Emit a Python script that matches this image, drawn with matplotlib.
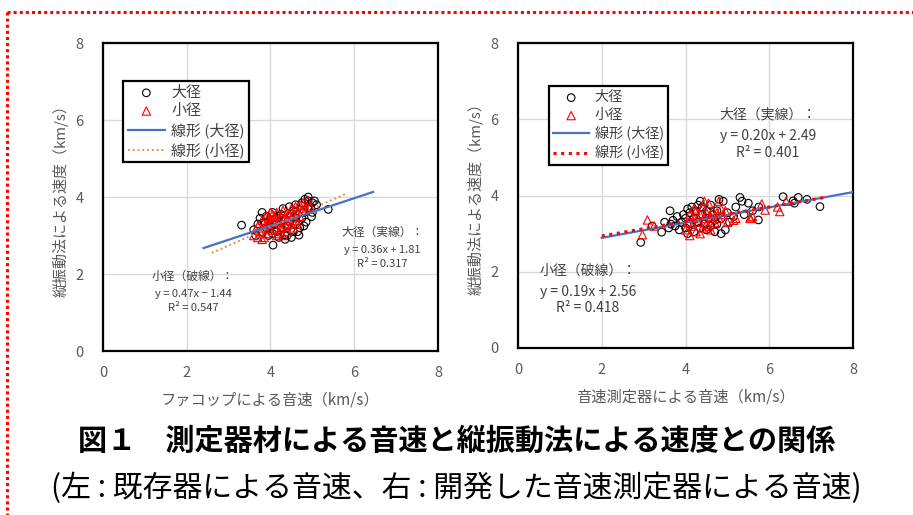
import matplotlib
matplotlib.use("Agg")
import matplotlib.pyplot as plt
from matplotlib.lines import Line2D

plt.rcParams['font.family'] = ['Noto Sans CJK JP', 'DejaVu Sans']

# left: ファコップ vs 縦振動法
L_big_x = [3.31, 3.6, 3.65, 3.7, 3.75, 3.8, 3.85, 3.9, 3.9, 3.95, 4.0, 4.05, 4.06, 4.1, 4.15, 4.2, 4.2, 4.25,
           4.3, 4.3, 4.34, 4.4, 4.4, 4.45, 4.5, 4.5, 4.55, 4.55, 4.6, 4.6, 4.65, 4.68, 4.7, 4.75, 4.75, 4.82,
           4.8, 4.85, 4.9, 4.9, 4.95, 4.98, 5.0, 5.0, 5.05, 5.1, 5.38, 4.05, 4.25, 4.6, 4.35, 4.65, 4.8, 4.9,
           3.8, 4.0, 4.45, 4.15]
L_big_y = [3.27, 3.15, 3.0, 3.3, 3.45, 3.6, 3.35, 3.2, 3.5, 3.0, 3.4, 3.6, 2.75, 3.3, 3.1, 3.5, 2.95, 3.2,
           3.7, 3.4, 3.01, 3.0, 3.25, 3.75, 3.5, 2.95, 3.1, 3.65, 3.3, 3.8, 3.55, 3.01, 3.2, 3.85, 3.45, 3.94,
           3.6, 3.35, 3.9, 4.0, 3.75, 3.49, 3.85, 3.6, 3.9, 3.8, 3.68, 3.05, 3.55, 3.45, 2.9, 3.1, 3.25, 3.7,
           3.1, 3.25, 3.35, 3.45]
L_small_x = [3.6, 3.65, 3.7, 3.7, 3.75, 3.8, 3.8, 3.85, 3.9, 3.9, 3.95, 4.0, 4.0, 4.05, 4.1, 4.1, 4.15, 4.2,
             4.2, 4.25, 4.3, 4.3, 4.35, 4.4, 4.4, 4.45, 4.5, 4.5, 4.55, 4.6, 4.6, 4.65, 4.7, 4.7, 4.75, 4.8,
             4.85, 4.9, 4.95, 4.0, 4.25, 4.45, 4.15, 3.95, 4.35, 4.55, 3.85, 4.65, 4.05, 4.3]
L_small_y = [3.0, 3.15, 3.25, 2.95, 3.1, 3.4, 2.9, 3.2, 3.5, 3.05, 3.3, 3.6, 3.15, 3.4, 3.5, 3.2, 3.6, 3.35,
             3.05, 3.5, 3.65, 3.25, 3.45, 3.6, 3.1, 3.4, 3.7, 3.3, 3.55, 3.75, 3.4, 3.6, 3.8, 3.5, 3.65, 3.85,
             3.7, 3.9, 3.75, 3.35, 3.2, 3.55, 3.0, 3.45, 3.3, 3.2, 2.95, 3.3, 3.55, 3.0]
L_fit_big = (0.36, 1.81, 2.4, 6.45)     # slope, intercept, x from, x to
L_fit_small = (0.48, 1.3, 2.6, 5.8)

# right: 音速測定器 vs 縦振動法
R_big_x = [2.93, 3.2, 3.43, 3.5, 3.63, 3.6, 3.7, 3.75, 3.8, 3.85, 3.9, 3.95, 4.0, 4.0, 4.05, 4.1, 4.1, 4.15,
           4.2, 4.2, 4.25, 4.3, 4.3, 4.35, 4.4, 4.4, 4.45, 4.5, 4.5, 4.55, 4.6, 4.6, 4.65, 4.7, 4.7, 4.75,
           4.8, 4.85, 4.85, 4.9, 4.95, 5.0, 5.05, 5.2, 5.3, 5.35, 5.4, 5.5, 5.6, 5.74, 5.75, 6.33, 6.57,
           6.6, 6.69, 6.9, 7.21, 4.05, 4.35, 4.75, 3.65, 5.15]
R_big_y = [2.77, 3.2, 3.04, 3.3, 3.6, 3.15, 3.35, 3.2, 3.45, 3.1, 3.3, 3.5, 3.15, 3.4, 3.0, 3.55, 3.25, 3.7,
           3.4, 3.05, 3.6, 3.3, 3.75, 3.15, 3.5, 3.7, 3.25, 3.6, 3.1, 3.4, 3.75, 3.2, 3.5, 3.35, 3.05, 3.6,
           3.9, 3.0, 3.4, 3.85, 3.1, 3.55, 3.3, 3.7, 3.95, 3.85, 3.5, 3.8, 3.6, 3.36, 3.7, 3.97, 3.86,
           3.8, 3.95, 3.9, 3.71, 3.65, 3.85, 3.25, 3.25, 3.45]
R_small_x = [2.97, 3.09, 3.25, 4.0, 4.05, 4.1, 4.1, 4.15, 4.2, 4.25, 4.25, 4.3, 4.35, 4.4, 4.4, 4.45, 4.5,
             4.5, 4.55, 4.6, 4.6, 4.65, 4.7, 4.75, 4.8, 4.8, 4.9, 4.95, 5.0, 5.15, 5.2, 5.54, 5.55, 5.6,
             5.82, 5.9, 6.25, 6.4, 6.2, 4.35, 4.55, 4.85, 4.2, 4.45]
R_small_y = [2.97, 3.36, 3.2, 3.1, 3.3, 2.95, 3.5, 3.2, 3.4, 3.6, 3.05, 3.3, 3.5, 3.7, 3.15, 3.4, 3.55,
             3.25, 3.8, 3.45, 3.1, 3.6, 3.3, 3.55, 3.85, 3.4, 3.5, 3.6, 3.3, 3.35, 3.4, 3.41, 3.4, 3.45,
             3.78, 3.62, 3.58, 3.85, 3.7, 3.0, 3.2, 3.65, 3.65, 3.85]
R_fit_big = (0.20, 2.49, 2.0, 8.0)
R_fit_small = (0.19, 2.56, 2.0, 7.3)

ticks = [0, 2, 4, 6, 8]
grey = '#595959'


def panel(ax, bx, by, sx, sy, fb, fs, small_style, xlabel, notes, leg_pos, leg_fs):
    ax.scatter(bx, by, s=30, facecolors='none', edgecolors='black', linewidths=0.8, label='大径', zorder=3)
    ax.scatter(sx, sy, s=36, marker='^', facecolors='none', edgecolors='red', linewidths=0.8, label='小径', zorder=4)
    k, b, x0, x1 = fb
    ax.plot([x0, x1], [k * x0 + b, k * x1 + b], color='#4472C4', lw=1.6, label='線形 (大径)', zorder=5)
    k, b, x0, x1 = fs
    ax.plot([x0, x1], [k * x0 + b, k * x1 + b], label='線形 (小径)', zorder=6, **small_style)
    ax.set_xlim(0, 8)
    ax.set_ylim(0, 8)
    ax.set_xticks(ticks)
    ax.set_yticks(ticks)
    ax.grid(True, color='#d9d9d9', lw=1)
    ax.set_axisbelow(True)
    ax.tick_params(length=0, labelsize=10.5, labelcolor=grey)
    ax.tick_params(axis='x', pad=11)
    ax.tick_params(axis='y', pad=14)
    for sp in ax.spines.values():
        sp.set_linewidth(1.6)
        sp.set_color('black')
    ax.set_xlabel(xlabel, fontsize=11, color=grey, labelpad=8)
    ax.set_ylabel('縦振動法による速度（km/s）', fontsize=10.8, color=grey, labelpad=5)
    for (x, y, t, fsz) in notes:
        ax.text(x, y, t, ha='center', va='center', fontsize=fsz, color='#404040')
    leg = ax.legend(loc='upper left', bbox_to_anchor=leg_pos, borderaxespad=0, fontsize=leg_fs,
                    labelspacing=0.28, handlelength=2.5, handletextpad=0.4, borderpad=0.3,
                    fancybox=False, framealpha=1, labelcolor='#404040')
    leg.get_frame().set_edgecolor('black')
    leg.get_frame().set_linewidth(1.6)


fig = plt.figure(figsize=(9.13, 5.15), dpi=100)
ax1 = fig.add_axes([0.1128, 0.3184, 0.3669, 0.598])
ax2 = fig.add_axes([0.5674, 0.3243, 0.3669, 0.592])

panel(ax1, L_big_x, L_big_y, L_small_x, L_small_y, L_fit_big, L_fit_small,
      dict(color='#ED7D31', lw=1.3, ls=':'), 'ファコップによる音速（km/s）',
      [(6.68, 3.09, '大径（実線）：', 8.5), (6.68, 2.62, 'y = 0.36x + 1.81', 8), (6.68, 2.26, 'R² = 0.317', 8),
       (2.15, 1.95, '小径（破線）：', 8.5), (2.15, 1.48, 'y = 0.47x − 1.44', 8), (2.15, 1.12, 'R² = 0.547', 8)],
      (0.06, 0.877), 10.8)
panel(ax2, R_big_x, R_big_y, R_small_x, R_small_y, R_fit_big, R_fit_small,
      dict(color='red', lw=2.2, ls=(0, (1, 1.5))), '音速測定器による音速（km/s）',
      [(5.97, 6.12, '大径（実線）：', 10), (5.97, 5.56, 'y = 0.20x + 2.49', 10), (5.97, 5.12, 'R² = 0.401', 10),
       (1.67, 2.02, '小径（破線）：', 10), (1.67, 1.47, 'y = 0.19x + 2.56', 10), (1.67, 1.05, 'R² = 0.418', 10)],
      (0.093, 0.859), 10.2)

fig.text(0.5, 1 - 441 / 515, '図１　測定器材による音速と縦振動法による速度との関係', ha='center', va='center',
         fontsize=21, fontweight='bold', color='black')
fig.text(0.5, 1 - 488 / 515, '(左 : 既存器による音速、右 : 開発した音速測定器による音速)', ha='center', va='center',
         fontsize=21.5, color='black')

# red dotted frame
fy = 1 - 12 / 515
fx = 7 / 913
fig.add_artist(Line2D([fx, 1.0], [fy, fy], color='red', lw=2.2, ls=(0, (1, 1)), dash_capstyle='butt'))
fig.add_artist(Line2D([fx, fx], [fy, 0.0], color='red', lw=2.2, ls=(0, (1, 1)), dash_capstyle='butt'))

fig.savefig('out.png', dpi=100)
